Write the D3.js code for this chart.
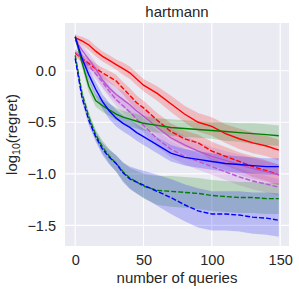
<!DOCTYPE html>
<html>
<head>
<meta charset="utf-8">
<script src="https://cdn.jsdelivr.net/npm/d3@7"></script>
<style>
  body { margin: 0; background: #fff; }
  text { font-family: "Liberation Sans", Arial, sans-serif; fill: #262626; }
</style>
</head>
<body>
<svg id="chart" width="299" height="293"></svg>
<script>
// ====
// DATA
// ====
var queries = [0, 5, 10, 15, 20, 25, 30, 35, 40, 45, 50, 60, 70, 80, 90, 100, 110, 120, 130, 140, 149];

var redSolid = [0.32, 0.29, 0.25, 0.19, 0.14, 0.10, 0.06, 0.02, -0.02, -0.08, -0.14, -0.22, -0.32, -0.42, -0.50, -0.54, -0.61, -0.66, -0.70, -0.73, -0.77];
var redSolidBand = [0.03, 0.04, 0.05, 0.05, 0.05, 0.05, 0.05, 0.06, 0.06, 0.06, 0.06, 0.07, 0.08, 0.08, 0.09, 0.09, 0.09, 0.10, 0.10, 0.10, 0.10];

var redDashed = [0.17, 0.12, 0.07, 0.02, -0.02, -0.06, -0.10, -0.17, -0.24, -0.31, -0.36, -0.48, -0.59, -0.66, -0.70, -0.78, -0.83, -0.88, -0.93, -0.97, -1.01];
var redDashedBand = [0.03, 0.04, 0.05, 0.05, 0.05, 0.06, 0.06, 0.06, 0.07, 0.07, 0.07, 0.07, 0.08, 0.08, 0.08, 0.09, 0.09, 0.09, 0.10, 0.10, 0.10];

var purpleSolid = [0.30, 0.20, 0.11, 0.02, -0.09, -0.17, -0.23, -0.28, -0.33, -0.39, -0.44, -0.55, -0.65, -0.72, -0.78, -0.83, -0.87, -0.91, -0.95, -0.98, -1.01];
var purpleSolidBand = [0.03, 0.05, 0.06, 0.06, 0.07, 0.07, 0.07, 0.08, 0.08, 0.08, 0.08, 0.08, 0.09, 0.09, 0.09, 0.09, 0.09, 0.10, 0.10, 0.10, 0.10];

var purpleDashed = [0.18, 0.12, 0.05, -0.03, -0.11, -0.20, -0.28, -0.34, -0.40, -0.47, -0.53, -0.66, -0.76, -0.83, -0.88, -0.93, -0.98, -1.03, -1.07, -1.10, -1.13];
var purpleDashedBand = [0.03, 0.04, 0.05, 0.05, 0.06, 0.06, 0.06, 0.07, 0.07, 0.07, 0.07, 0.08, 0.08, 0.08, 0.08, 0.08, 0.08, 0.08, 0.08, 0.08, 0.08];

var blueSolid = [0.33, 0.12, -0.04, -0.18, -0.30, -0.39, -0.46, -0.51, -0.55, -0.60, -0.64, -0.72, -0.80, -0.84, -0.86, -0.88, -0.90, -0.91, -0.92, -0.93, -0.93];
var blueSolidBand = [0.03, 0.05, 0.06, 0.07, 0.07, 0.08, 0.08, 0.08, 0.08, 0.08, 0.08, 0.08, 0.08, 0.08, 0.08, 0.08, 0.08, 0.08, 0.08, 0.08, 0.08];

var blueDashed = [0.12, -0.26, -0.48, -0.64, -0.76, -0.84, -0.90, -0.99, -1.05, -1.08, -1.11, -1.17, -1.23, -1.30, -1.36, -1.39, -1.39, -1.40, -1.42, -1.43, -1.45];
var blueDashedUp = [0.03, 0.04, 0.05, 0.05, 0.06, 0.07, 0.08, 0.10, 0.12, 0.13, 0.14, 0.16, 0.18, 0.20, 0.22, 0.22, 0.22, 0.23, 0.24, 0.25, 0.26];
var blueDashedDown = [0.03, 0.04, 0.05, 0.05, 0.06, 0.07, 0.08, 0.09, 0.10, 0.11, 0.12, 0.14, 0.16, 0.16, 0.16, 0.16, 0.16, 0.16, 0.16, 0.16, 0.16];

var greenSolid = [0.33, 0.08, -0.15, -0.29, -0.34, -0.38, -0.42, -0.45, -0.47, -0.49, -0.51, -0.53, -0.55, -0.56, -0.57, -0.58, -0.59, -0.60, -0.61, -0.62, -0.63];
var greenSolidBand = [0.03, 0.05, 0.06, 0.06, 0.06, 0.06, 0.06, 0.06, 0.07, 0.07, 0.07, 0.07, 0.08, 0.08, 0.08, 0.08, 0.09, 0.09, 0.10, 0.10, 0.10];

var greenDashed = [0.15, -0.22, -0.45, -0.62, -0.74, -0.83, -0.90, -0.98, -1.04, -1.08, -1.12, -1.16, -1.17, -1.18, -1.19, -1.21, -1.22, -1.23, -1.23, -1.24, -1.24];
var greenDashedBand = [0.03, 0.04, 0.05, 0.05, 0.06, 0.07, 0.08, 0.09, 0.10, 0.11, 0.12, 0.14, 0.15, 0.15, 0.15, 0.15, 0.15, 0.15, 0.15, 0.15, 0.15];

var xTicks = [0, 50, 100, 150];
var yTicks = [0.0, -0.5, -1.0, -1.5];

// series table built from the arrays above
var series = [
  { mean: redSolid, up: redSolidBand, down: redSolidBand, color: "#ff0000", dash: null },
  { mean: redDashed, up: redDashedBand, down: redDashedBand, color: "#ff0000", dash: "5,2" },
  { mean: purpleSolid, up: purpleSolidBand, down: purpleSolidBand, color: "#ba55d3", dash: null },
  { mean: purpleDashed, up: purpleDashedBand, down: purpleDashedBand, color: "#ba55d3", dash: "5,2" },
  { mean: greenSolid, up: greenSolidBand, down: greenSolidBand, color: "#008000", dash: null },
  { mean: greenDashed, up: greenDashedBand, down: greenDashedBand, color: "#008000", dash: "5,2" },
  { mean: blueSolid, up: blueSolidBand, down: blueSolidBand, color: "#0000ff", dash: null },
  { mean: blueDashed, up: blueDashedUp, down: blueDashedDown, color: "#0000ff", dash: "5,2" }
];

// ########
// # MAIN #
// ########
var svg = d3.select("#chart");
var margin = { left: 65, top: 23, right: 10, bottom: 47 };
var width = 299 - margin.left - margin.right,
  height = 293 - margin.top - margin.bottom;

var x = d3.scaleLinear().domain([-7.45, 156.45]).range([0, width]);
var y = d3.scaleLinear().domain([-1.70, 0.463]).range([height, 0]);

var g = svg.append("g").attr("transform", "translate(" + margin.left + "," + margin.top + ")");

g.append("rect").attr("width", width).attr("height", height).attr("fill", "#eaeaf2");

g.append("defs").append("clipPath").attr("id", "clip")
  .append("rect").attr("width", width).attr("height", height);

// grid
g.selectAll("line.gx").data(xTicks).enter().append("line")
  .attr("x1", function (d) { return x(d); }).attr("x2", function (d) { return x(d); })
  .attr("y1", 0).attr("y2", height)
  .attr("stroke", "#fff").attr("stroke-width", 1.1);
g.selectAll("line.gy").data(yTicks).enter().append("line")
  .attr("y1", function (d) { return y(d); }).attr("y2", function (d) { return y(d); })
  .attr("x1", 0).attr("x2", width)
  .attr("stroke", "#fff").attr("stroke-width", 1.1);

var plot = g.append("g").attr("clip-path", "url(#clip)");

var area = d3.area()
  .x(function (d) { return x(d.q); })
  .y0(function (d) { return y(d.lo); })
  .y1(function (d) { return y(d.hi); });

var line = d3.line()
  .x(function (d) { return x(d.q); })
  .y(function (d) { return y(d.v); });

series.forEach(function (s) {
  var pts = queries.map(function (q, i) {
    return { q: q, v: s.mean[i], lo: s.mean[i] - s.down[i], hi: s.mean[i] + s.up[i] };
  });
  plot.append("path").datum(pts)
    .attr("d", area)
    .attr("fill", s.color)
    .attr("fill-opacity", 0.2);
});

series.forEach(function (s) {
  var pts = queries.map(function (q, i) { return { q: q, v: s.mean[i] }; });
  plot.append("path").datum(pts)
    .attr("d", line)
    .attr("fill", "none")
    .attr("stroke", s.color)
    .attr("stroke-width", 1.4)
    .attr("stroke-dasharray", s.dash);
});

// axes (no tick marks, seaborn style)
var xAxis = g.append("g").attr("transform", "translate(0," + height + ")")
  .call(d3.axisBottom(x).tickValues(xTicks).tickSize(0).tickPadding(9).tickFormat(d3.format("d")));
var yAxis = g.append("g")
  .call(d3.axisLeft(y).tickValues(yTicks).tickSize(0).tickPadding(9).tickFormat(d3.format(".1f")));
[xAxis, yAxis].forEach(function (a) {
  a.select(".domain").remove();
  a.selectAll("text").attr("font-size", 14.5).attr("fill", "#262626")
    .attr("font-family", "'Liberation Sans', Arial, sans-serif");
});
yAxis.selectAll("text").text(function (d) { return d3.format(".1f")(d).replace("-", "\u2212"); });

// labels
svg.append("text")
  .attr("x", margin.left + width / 2).attr("y", 17)
  .attr("text-anchor", "middle").attr("font-size", 15)
  .text("hartmann");

svg.append("text")
  .attr("x", margin.left + width / 2).attr("y", 283)
  .attr("text-anchor", "middle").attr("font-size", 15)
  .text("number of queries");

var yl = svg.append("text")
  .attr("transform", "translate(17," + (margin.top + height / 2) + ") rotate(-90)")
  .attr("text-anchor", "middle").attr("font-size", 15);
yl.append("tspan").text("log");
yl.append("tspan").attr("font-size", 10.5).attr("dy", 3).text("10");
yl.append("tspan").attr("dy", -3).text("(regret)");
</script>
</body>
</html>
